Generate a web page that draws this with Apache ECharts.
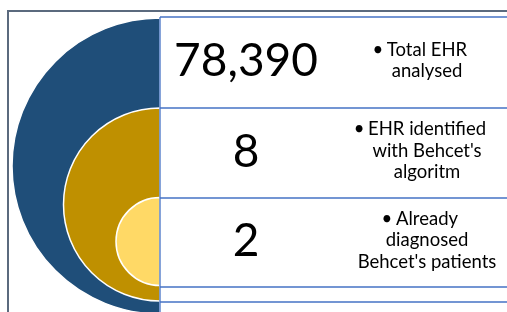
<!DOCTYPE html>
<html>
<head>
<meta charset="utf-8">
<script src="https://cdn.jsdelivr.net/npm/echarts@6/dist/echarts.min.js"></script>
<style>
html,body{margin:0;padding:0;background:#fff;}
#main{width:507px;height:312px;}
</style>
</head>
<body>
<div id="main"></div>
<script>
// ---- data ----
const stageNames = ['Total EHR analysed', "EHR identified with Behcet's algoritm", "Already diagnosed Behcet's patients"];
const stageValues = [78390, 8, 2];
const stageLines = [
  ['Total EHR', 'analysed'],
  ['EHR identified', "with Behcet's", 'algoritm'],
  ['Already', 'diagnosed', "Behcet's patients"]
];

// ---- style / layout ----
const ringColors = ['#1f4e79', '#bf9000', '#ffd966'];
const ringCenters = [[160, 166], [160, 204.5], [160, 241.5]];
const ringRadius = [148, 96.5, 44];
const rowTops = [17, 108, 198, 287];
const extraLines = [302];
const tableLeft = 160;
const numX = 246;
const descX = 427;
const lineGap = 21.5;
const lineColor = '#4472c4';
const FONT = 'Lato, "Open Sans", sans-serif';

const chart = echarts.init(document.getElementById('main'), null, {renderer: 'canvas'});

const series = stageNames.map((name, i) => ({
  type: 'pie',
  name: name,
  center: ringCenters[i],
  radius: [0, ringRadius[i]],
  startAngle: 90,
  clockwise: false,
  silent: true,
  animation: false,
  z: 2 + i,
  label: {show: false},
  labelLine: {show: false},
  emphasis: {disabled: true},
  data: [
    {value: 1, name: name, itemStyle: {color: ringColors[i], borderColor: '#ffffff', borderWidth: 1.5}},
    {value: 1, name: '', itemStyle: {color: 'transparent', borderWidth: 0}}
  ]
}));

const measure = document.createElement('canvas').getContext('2d');
const descFont = '18.5px ' + FONT;
const elements = [];
// outer frame
elements.push({type: 'rect', shape: {x: 8, y: 11, width: 700, height: 500},
  style: {fill: null, stroke: '#5b6a7e', lineWidth: 2}, z: 50});
// table horizontal lines
rowTops.concat(extraLines).forEach(y => {
  elements.push({type: 'line', shape: {x1: tableLeft, y1: y, x2: 520, y2: y},
    style: {stroke: lineColor, lineWidth: 1.3}, z: 60});
});
// table left border
elements.push({type: 'line', shape: {x1: tableLeft, y1: rowTops[0], x2: tableLeft, y2: 320},
  style: {stroke: lineColor, lineWidth: 1.3}, z: 60});

stageValues.forEach((v, i) => {
  const mid = (rowTops[i] + rowTops[i + 1]) / 2;
  elements.push({type: 'text', x: numX, y: mid - 1, z: 70,
    style: {text: echarts.format.addCommas(v), font: '46px ' + FONT, fill: '#000',
      align: 'center', verticalAlign: 'middle'}});
  const lines = stageLines[i];
  const startY = mid - (lines.length - 1) * lineGap / 2 - 2;
  lines.forEach((t, j) => {
    const y = startY + j * lineGap;
    elements.push({type: 'text', x: descX, y: y, z: 70,
      style: {text: t, font: descFont, fill: '#000', align: 'center', verticalAlign: 'middle'}});
    if (j === 0) {
      measure.font = descFont;
      const w = measure.measureText(t).width;
      elements.push({type: 'text', x: descX - w / 2 - 9, y: y, z: 70,
        style: {text: '•', font: descFont, fill: '#000', align: 'center', verticalAlign: 'middle'}});
    }
  });
});

chart.setOption({
  animation: false,
  backgroundColor: '#ffffff',
  series: series,
  graphic: {elements: elements}
});
</script>
</body>
</html>
